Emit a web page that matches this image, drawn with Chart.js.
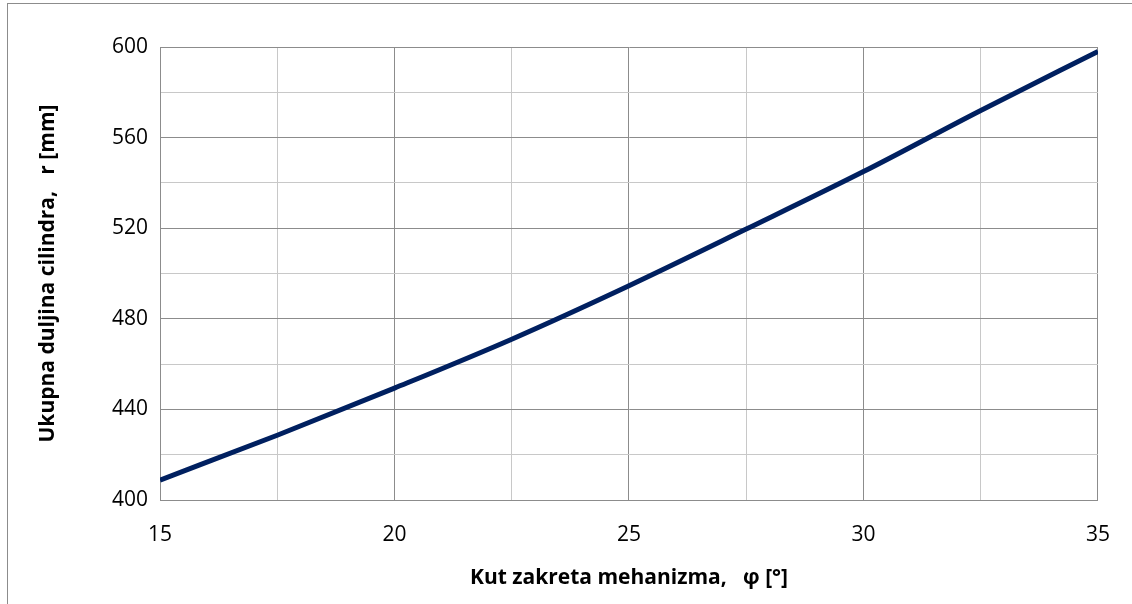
<!DOCTYPE html>
<html>
<head>
<meta charset="utf-8">
<script src="https://cdn.jsdelivr.net/npm/chart.js@4/dist/chart.umd.min.js"></script>
<style>
  body { margin: 0; background: #fff; }
  #frame { position: absolute; left: 7px; top: 3px; width: 1200px; height: 700px;
           border-left: 1px solid #8c8c8c; border-top: 1px solid #8c8c8c; }
  #wrap { position: absolute; left: 0; top: 0; width: 1132px; height: 604px; }
</style>
</head>
<body>
<div id="frame"></div>
<div id="wrap"><canvas id="lengthChart" width="1132" height="604"></canvas></div>
<script>
// kut zakreta (deg) vs ukupna duljina cilindra (mm)
const angles = [15, 17.5, 20, 22.5, 25, 27.5, 30, 32.5, 35]
const lengths = [408.8, 428.6, 449.4, 471, 494.6, 519.6, 545, 572, 598]

const xTitle = 'Kut zakreta mehanizma,   φ [°]'
const yTitle = 'Ukupna duljina cilindra,   r [mm]'

const majorGrid = '#8c8c8c'
const minorGrid = '#c8c8c8'

let points = []
for (let i = 0; i < angles.length; i++) {
    points.push({x: angles[i], y: lengths[i]})
}

const tickFont = { family: 'Open Sans', size: 21 }
const titleFont = { family: 'Open Sans', size: 21, weight: 'bold' }

const config = {
    type: 'line',
    data: {
        datasets: [{
            label: 'r',
            data: points,
            borderColor: '#002060',
            borderWidth: 5,
            pointRadius: 0,
            tension: 0.4,
            cubicInterpolationMode: 'monotone',
            fill: false
        }]
    },
    options: {
        responsive: false,
        animation: false,
        layout: { padding: { top: 47, right: 34, bottom: 0, left: 0 } },
        plugins: {
            legend: { display: false },
            tooltip: { enabled: false }
        },
        scales: {
            x: {
                type: 'linear',
                min: 15,
                max: 35,
                border: { color: majorGrid, width: 1 },
                grid: {
                    drawTicks: false,
                    color: ctx => (ctx.tick && ctx.tick.value % 5 === 0) ? majorGrid : minorGrid,
                    lineWidth: 1
                },
                ticks: {
                    stepSize: 2.5,
                    padding: 22,
                    color: '#000',
                    font: tickFont,
                    maxRotation: 0,
                    autoSkip: false,
                    callback: v => v % 5 === 0 ? v : ''
                },
                title: {
                    display: true,
                    text: xTitle,
                    color: '#000',
                    font: titleFont,
                    padding: { top: 0, bottom: 13 }
                },
                afterFit: scale => { scale.height = 104 }
            },
            y: {
                min: 400,
                max: 600,
                border: { color: majorGrid, width: 1 },
                grid: {
                    drawTicks: false,
                    color: ctx => (ctx.tick && ctx.tick.value % 40 === 0) ? majorGrid : minorGrid,
                    lineWidth: 1
                },
                ticks: {
                    stepSize: 20,
                    padding: 12,
                    color: '#000',
                    font: tickFont,
                    autoSkip: false,
                    callback: v => v % 40 === 0 ? v : ''
                },
                title: {
                    display: true,
                    text: yTitle,
                    color: '#000',
                    font: titleFont,
                    padding: { top: 35, bottom: 0 }
                },
                afterFit: scale => { scale.width = 160 }
            }
        }
    }
}

const myChart = new Chart(document.getElementById('lengthChart'), config)
</script>
</body>
</html>
